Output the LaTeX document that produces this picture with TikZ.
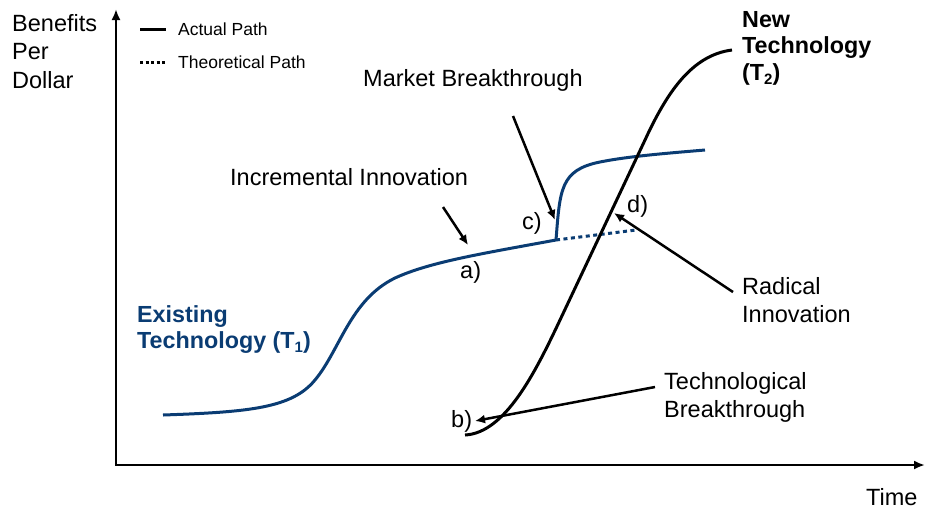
\documentclass[tikz,border=0pt]{standalone}
\usepackage{fontspec}
\setmainfont{Liberation Sans}
\usetikzlibrary{arrows.meta}
\definecolor{tblue}{RGB}{10,60,115}
\newcommand{\lowsub}[1]{\raisebox{-0.35ex}{\fontsize{15}{15}\selectfont #1}}
\begin{document}
\begin{tikzpicture}[x=1pt,y=-1pt,
 lbl/.style={font=\fontsize{23.5}{28.5}\selectfont, inner sep=0pt, align=left},
 small/.style={font=\fontsize{17.5}{20}\selectfont, inner sep=0pt},
 boldlbl/.style={font=\fontsize{23.3}{26.5}\selectfont\bfseries, inner sep=0pt, align=left},
 axis/.style={line width=2.8pt, {Latex[length=11pt,width=9pt]}-{Latex[length=11pt,width=9pt]}},
 pointer/.style={line width=2.5pt, -{Latex[length=10pt,width=9pt]}},
 curveA/.style={line width=3pt, tblue},
 curveB/.style={line width=3pt, black},
 legline/.style={line width=3pt},
]
\useasboundingbox (0,0) rectangle (925,509);
% axes
\coordinate (O) at (116,465);
\coordinate (Ytop) at (116,9);
\coordinate (Xend) at (925,465);
\draw[axis] (Ytop) -- (O) -- (Xend);
\node[lbl, anchor=north west] (ylab) at (12,14) {Benefits\\Per\\Dollar};
\node[lbl, anchor=base west] (xlab) at (866,505) {Time};
% legend
\coordinate (L1a) at (140,29); \coordinate (L1b) at (166,29);
\coordinate (L2a) at (140,62); \coordinate (L2b) at (166,62);
\draw[legline] (L1a) -- (L1b);
\draw[legline, dash pattern=on 3pt off 2.5pt] (L2a) -- (L2b);
\node[small, anchor=west] (leg1) at (178,29) {Actual Path};
\node[small, anchor=west] (leg2) at (178,62) {Theoretical Path};
% existing technology curve
\coordinate (T1s) at (163,415);
\coordinate (Br) at (556,240);
\coordinate (T1dot) at (636,230);
\coordinate (T1e) at (705,150);
\draw[curveA] (T1s) .. controls (250,412) and (292,408) .. (315,380)
   .. controls (340,350) and (350,300) .. (395,278)
   .. controls (430,262) and (480,254) .. (Br);
\draw[curveA, dash pattern=on 4pt off 3.5pt] (Br) -- (T1dot);
\draw[curveA] (Br) .. controls (560,190) and (560,170) .. (600,162)
   .. controls (630,156) and (670,153) .. (T1e);
% new technology curve
\coordinate (T2s) at (465,435);
\coordinate (T2e) at (732,50);
\draw[curveB] (T2s) .. controls (505,433) and (535,373) .. (560,320)
   -- (645,140) .. controls (668,90) and (693,55) .. (T2e);
% labels
\node[boldlbl, text=tblue, anchor=north west] (exist) at (137,305) {Existing\\Technology (T\lowsub{1})};
\node[boldlbl, anchor=north west] (newtech) at (742,11) {New\\Technology\\(T\lowsub{2})};
\node[lbl, anchor=base west] (incr) at (230,185) {Incremental Innovation};
\node[lbl, anchor=base west] (mkt) at (363,86) {Market Breakthrough};
\node[lbl, anchor=north west] (rad) at (742,277) {Radical\\Innovation};
\node[lbl, anchor=north west] (tech) at (664,372) {Technological\\Breakthrough};
\node[lbl, anchor=base west] (la) at (460,278) {a)};
\node[lbl, anchor=base west] (lb) at (451,427) {b)};
\node[lbl, anchor=base west] (lc) at (522,229) {c)};
\node[lbl, anchor=base west] (ld) at (627,212) {d)};
% pointers
\coordinate (incrTail) at (443,207); \coordinate (incrTip) at (468,245);
\coordinate (mktTail) at (513,116); \coordinate (mktTip) at (555,220);
\coordinate (radTail) at (733,292); \coordinate (radTip) at (614,213);
\coordinate (techTail) at (655,387); \coordinate (techTip) at (475,421);
\draw[pointer] (incrTail) -- (incrTip);
\draw[pointer] (mktTail) -- (mktTip);
\draw[pointer] (radTail) -- (radTip);
\draw[pointer] (techTail) -- (techTip);
\end{tikzpicture}
\end{document}
